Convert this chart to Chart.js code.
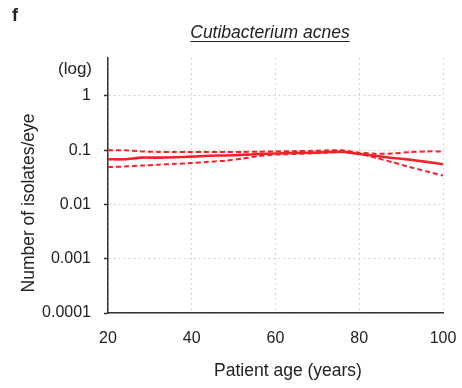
<!DOCTYPE html>
<html>
<head>
<meta charset="utf-8">
<script src="https://cdn.jsdelivr.net/npm/chart.js@4.4.1/dist/chart.umd.min.js"></script>
<style>
  html, body { margin: 0; padding: 0; background: #fff; }
  #wrap { width: 462px; height: 388px; position: relative; }
</style>
</head>
<body>
<div id="wrap"><canvas id="c" width="462" height="388"></canvas></div>
<script>
// Patient age (years) and isolates per eye: fitted mean with upper/lower bounds
const ages = [20, 24, 28, 32, 36, 40, 44, 48, 52, 56, 60, 64, 68, 72, 76, 80, 84, 88, 92, 96, 100];
const meanIsolates = [0.068, 0.068, 0.073, 0.073, 0.074, 0.076, 0.079, 0.080, 0.082, 0.085, 0.087, 0.089, 0.090, 0.092, 0.094, 0.085, 0.078, 0.072, 0.067, 0.061, 0.055];
const upperBound = [0.100, 0.100, 0.095, 0.093, 0.093, 0.093, 0.093, 0.093, 0.093, 0.094, 0.095, 0.096, 0.097, 0.099, 0.100, 0.090, 0.086, 0.087, 0.092, 0.095, 0.095];
const lowerBound = [0.049, 0.050, 0.052, 0.054, 0.056, 0.058, 0.061, 0.064, 0.070, 0.078, 0.083, 0.085, 0.087, 0.090, 0.092, 0.086, 0.072, 0.060, 0.049, 0.041, 0.034];
const yTicks = [0.0001, 0.001, 0.01, 0.1, 1];
const xTicks = [20, 40, 60, 80, 100];

const RED = '#f0222a';
const FONT = '"Liberation Sans", Arial, sans-serif';

const pts = arr => ages.map((a, i) => ({ x: a, y: arr[i] }));

// Panel letter, italic underlined title, "(log)" marker and axis titles
const textPlugin = {
  id: 'panelText',
  afterDraw(chart) {
    const ctx = chart.ctx;
    ctx.save();
    ctx.fillStyle = '#222';
    ctx.textBaseline = 'alphabetic';

    ctx.font = 'bold 18px ' + FONT;
    ctx.textAlign = 'left';
    ctx.fillText('f', 12, 21);

    ctx.font = 'italic 17.5px ' + FONT;
    ctx.textAlign = 'center';
    const title = 'Cutibacterium acnes';
    const cx = 270;
    ctx.fillText(title, cx, 38);
    const w = ctx.measureText(title).width;
    ctx.strokeStyle = '#222';
    ctx.lineWidth = 1;
    ctx.beginPath();
    ctx.moveTo(cx - w / 2, 41.5);
    ctx.lineTo(cx + w / 2, 41.5);
    ctx.stroke();

    ctx.font = '17px ' + FONT;
    ctx.textAlign = 'right';
    ctx.fillText('(log)', 92, 74);

    ctx.font = '17.5px ' + FONT;
    ctx.textAlign = 'center';
    ctx.fillText('Patient age (years)', 288, 376);

    ctx.translate(34, 203);
    ctx.rotate(-Math.PI / 2);
    ctx.fillText('Number of isolates/eye', 0, 0);
    ctx.restore();
  }
};

new Chart(document.getElementById('c'), {
  type: 'line',
  data: {
    datasets: [
      { data: pts(upperBound), borderColor: RED, borderWidth: 2, borderDash: [5, 3], pointRadius: 0, tension: 0.2, fill: false },
      { data: pts(lowerBound), borderColor: RED, borderWidth: 2, borderDash: [5, 3], pointRadius: 0, tension: 0.2, fill: false },
      { data: pts(meanIsolates), borderColor: RED, borderWidth: 2.6, pointRadius: 0, tension: 0.2, fill: false }
    ]
  },
  plugins: [textPlugin],
  options: {
    responsive: false,
    animation: false,
    devicePixelRatio: 1,
    layout: { padding: { left: 0, right: 19, top: 58, bottom: 0 } },
    plugins: { legend: { display: false }, tooltip: { enabled: false }, title: { display: false } },
    scales: {
      x: {
        type: 'linear',
        min: 20,
        max: 100,
        afterFit(scale) {
          scale.height = 75;
          scale.paddingLeft = 0;
          scale.paddingRight = 0;
        },
        afterBuildTicks(scale) { scale.ticks = xTicks.map(v => ({ value: v })); },
        ticks: { color: '#222', font: { family: FONT, size: 16 }, padding: 16, maxRotation: 0 },
        grid: { color: '#d2d2d2', lineWidth: 1, drawTicks: false },
        border: { display: true, color: '#333', width: 1.5, dash: [2, 3] }
      },
      y: {
        type: 'logarithmic',
        min: 0.0001,
        max: 5,
        afterFit(scale) {
          scale.width = 108;
          scale.paddingTop = 0;
          scale.paddingBottom = 0;
        },
        afterBuildTicks(scale) { scale.ticks = yTicks.map(v => ({ value: v })); },
        ticks: {
          color: '#222', font: { family: FONT, size: 16 }, padding: 13,
          callback: v => String(v)
        },
        grid: {
          color: '#d2d2d2', lineWidth: 1,
          drawTicks: true, tickLength: 4, tickColor: '#333', tickWidth: 1.5, tickBorderDash: []
        },
        border: { display: true, color: '#333', width: 1.5, dash: [2, 3] }
      }
    }
  }
});
</script>
</body>
</html>
